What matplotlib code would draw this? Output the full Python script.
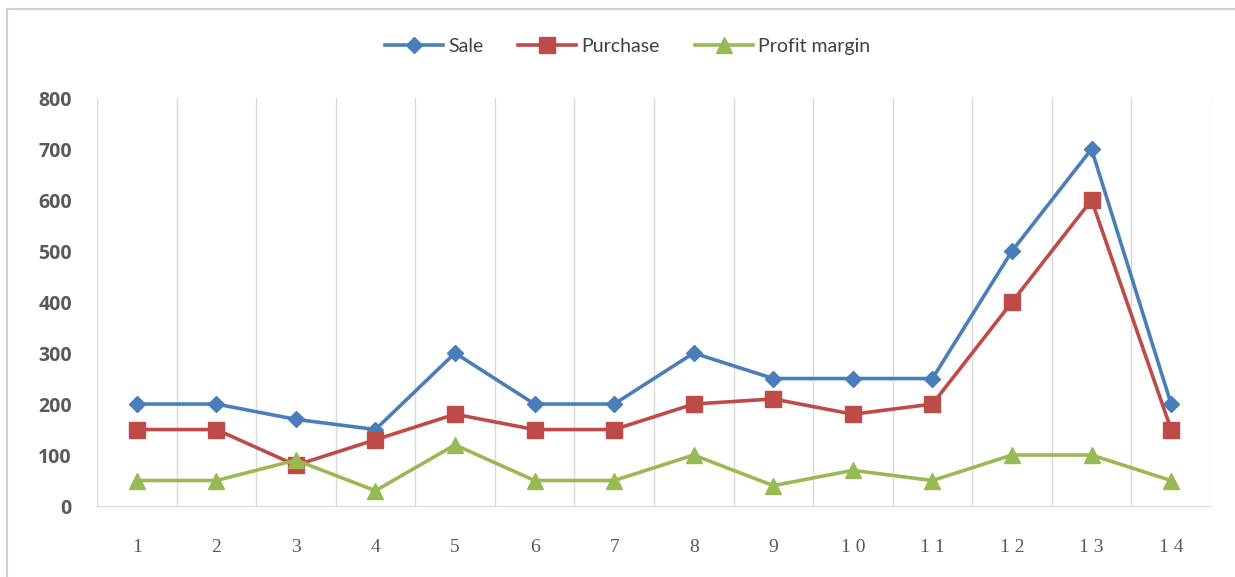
import numpy as np
import matplotlib.pyplot as plt
from matplotlib.lines import Line2D

# monthly figures
periods = list(range(1, 15))
period_labels = [" ".join(str(p)) for p in periods]
sale = [200, 200, 170, 150, 300, 200, 200, 300, 250, 250, 250, 500, 700, 200]
purchase = [150, 150, 80, 130, 180, 150, 150, 200, 210, 180, 200, 400, 600, 150]
profit_margin = [50, 50, 90, 30, 120, 50, 50, 100, 40, 70, 50, 100, 100, 50]

blue = '#4a7ebb'
red = '#be4b48'
green = '#98b954'
grid = '#d9d9d9'

fig = plt.figure(figsize=(12.35, 5.77), dpi=100)
ax = fig.add_axes([0.0785, 0.123, 0.902, 0.707])

ax.plot(periods, sale, color=blue, lw=2.6, marker='D', ms=8, label='Sale', zorder=3)
ax.plot(periods, purchase, color=red, lw=2.6, marker='s', ms=11, label='Purchase', zorder=3)
ax.plot(periods, profit_margin, color=green, lw=2.6, marker='^', ms=12, label='Profit margin', zorder=3)

ax.set_xlim(0.5, 14.5)
ax.set_ylim(0, 800)
ax.set_yticks(np.arange(0, 801, 100))
ax.set_xticks(periods)
ax.set_xticklabels(period_labels, family='Liberation Serif', fontsize=14, color='#595959')

# category separators
for b in np.arange(0.5, 15, 1):
    ax.axvline(b, color=grid, lw=1, zorder=0)

for s in ['top', 'right', 'left']:
    ax.spines[s].set_visible(False)
ax.spines['bottom'].set_color(grid)
ax.tick_params(axis='x', length=0, pad=24)
ax.tick_params(axis='y', length=0, pad=18)
for t in ax.get_yticklabels():
    t.set_fontfamily('Open Sans')
    t.set_fontweight('bold')
    t.set_fontsize(14)
    t.set_color('#595959')

fig.legend(loc='center', bbox_to_anchor=(0.508, 0.92), ncol=3, frameon=False,
           prop={'family': 'Lato', 'size': 14}, handlelength=3.0, columnspacing=1.8,
           handletextpad=0.25, labelcolor='#404040')

# outer chart frame
fig.add_artist(Line2D([0.0057, 0.0057], [0, 0.984], color='#d0d0d0', lw=1.5))
fig.add_artist(Line2D([0.0057, 1.0], [0.984, 0.984], color='#d0d0d0', lw=1.5))

fig.savefig('out.png', dpi=100)
